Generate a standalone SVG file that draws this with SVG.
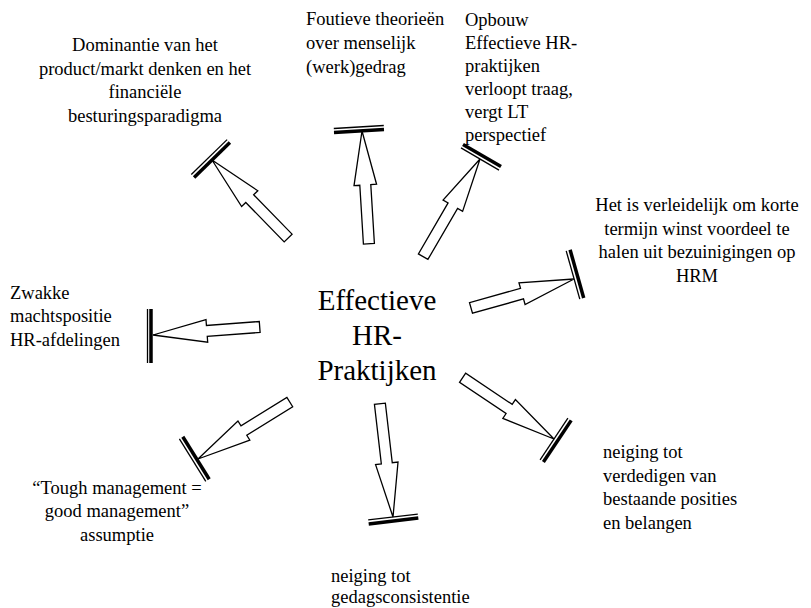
<svg xmlns="http://www.w3.org/2000/svg" width="811" height="608" viewBox="0 0 811 608">
<style>
text{font-family:'Liberation Serif','Times New Roman',serif;fill:#000}
.lbl{font-size:18.5px}
.mid{text-anchor:middle}
.big{font-size:29px;text-anchor:middle}
.arrow{fill:#fff;stroke:#000;stroke-width:1.3;stroke-linejoin:miter}
.thick{stroke:#000;stroke-width:3.5;fill:none}
.thin{stroke:#000;stroke-width:1.3;fill:none}
</style>
<rect width="811" height="608" fill="#fff"/>
<g id="connectors">
  <polygon class="arrow" transform="translate(212,160) rotate(-134.3)" points="0,0 -54,-11.3 -54,-5.5 -109,-5.5 -109,5.5 -54,5.5 -54,11.3"/>
  <line class="thick" x1="229.9" y1="142.55" x2="194.1" y2="177.45"/>
  <line class="thin" x1="227.1" y1="139.65" x2="191.3" y2="174.55"/>
  <polygon class="arrow" transform="translate(362,131) rotate(-93.5)" points="0,0 -54,-11.3 -54,-5.5 -113,-5.5 -113,5.5 -54,5.5 -54,11.3"/>
  <line class="thick" x1="384" y1="129.5" x2="334" y2="132.5"/>
  <line class="thin" x1="383.8" y1="125.5" x2="333.8" y2="128.5"/>
  <polygon class="arrow" transform="translate(480,159) rotate(-59.8)" points="0,0 -54,-11.3 -54,-5.5 -113,-5.5 -113,5.5 -54,5.5 -54,11.3"/>
  <line class="thin" x1="499" y1="170.1" x2="461" y2="147.9"/>
  <line class="thick" x1="501" y1="166.6" x2="463" y2="144.4"/>
  <polygon class="arrow" transform="translate(574,279) rotate(-15.7)" points="0,0 -54,-11.3 -54,-5.5 -107,-5.5 -107,5.5 -54,5.5 -54,11.3"/>
  <line class="thin" x1="579.8" y1="299.1" x2="566.2" y2="250.9"/>
  <line class="thick" x1="583.7" y1="298" x2="570.1" y2="249.8"/>
  <polygon class="arrow" transform="translate(153,335) rotate(175.7)" points="0,0 -54,-11.3 -54,-5.5 -107,-5.5 -107,5.5 -54,5.5 -54,11.3"/>
  <line class="thick" x1="151" y1="309" x2="151" y2="363"/>
  <line class="thin" x1="147.5" y1="309" x2="147.5" y2="363"/>
  <polygon class="arrow" transform="translate(198,459) rotate(148.2)" points="0,0 -54,-11.3 -54,-5.5 -108,-5.5 -108,5.5 -54,5.5 -54,11.3"/>
  <line class="thick" x1="182.8" y1="436.75" x2="209.2" y2="479.25"/>
  <line class="thin" x1="179.4" y1="438.85" x2="205.8" y2="481.35"/>
  <polygon class="arrow" transform="translate(393,517) rotate(83.4)" points="0,0 -54,-11.3 -54,-5.5 -114,-5.5 -114,5.5 -54,5.5 -54,11.3"/>
  <line class="thin" x1="368.2" y1="519.9" x2="417.8" y2="514.1"/>
  <line class="thick" x1="368.7" y1="523.9" x2="418.3" y2="518.1"/>
  <polygon class="arrow" transform="translate(554,439) rotate(33.8)" points="0,0 -54,-11.3 -54,-5.5 -110,-5.5 -110,5.5 -54,5.5 -54,11.3"/>
  <line class="thin" x1="540.1" y1="459.8" x2="567.9" y2="418.2"/>
  <line class="thick" x1="543.4" y1="462" x2="571.2" y2="420.4"/>
</g>
<g id="center">
  <text class="big" x="377" y="310">Effectieve</text>
  <text class="big" x="377" y="345">HR-</text>
  <text class="big" x="377" y="380">Praktijken</text>
</g>
<g id="node-dominantie">
  <text class="lbl mid" x="145" y="51">Dominantie van het</text>
  <text class="lbl mid" x="145" y="74.5">product/markt denken en het</text>
  <text class="lbl mid" x="145" y="98">financiële</text>
  <text class="lbl mid" x="145" y="121.5">besturingsparadigma</text>
</g>
<g id="node-foutieve">
  <text class="lbl" x="306" y="25">Foutieve theorieën</text>
  <text class="lbl" x="306" y="49">over menselijk</text>
  <text class="lbl" x="306" y="73">(werk)gedrag</text>
</g>
<g id="node-opbouw">
  <text class="lbl" x="465" y="26">Opbouw</text>
  <text class="lbl" x="465" y="49">Effectieve HR-</text>
  <text class="lbl" x="465" y="72">praktijken</text>
  <text class="lbl" x="465" y="95">verloopt traag,</text>
  <text class="lbl" x="465" y="118">vergt LT</text>
  <text class="lbl" x="465" y="141">perspectief</text>
</g>
<g id="node-verleidelijk">
  <text class="lbl mid" x="697" y="211">Het is verleidelijk om korte</text>
  <text class="lbl mid" x="697" y="234.5">termijn winst voordeel te</text>
  <text class="lbl mid" x="697" y="258">halen uit bezuinigingen op</text>
  <text class="lbl mid" x="697" y="281.5">HRM</text>
</g>
<g id="node-zwakke">
  <text class="lbl" x="10" y="299">Zwakke</text>
  <text class="lbl" x="10" y="322">machtspositie</text>
  <text class="lbl" x="10" y="346">HR-afdelingen</text>
</g>
<g id="node-tough">
  <text class="lbl mid" x="117" y="494">“Tough management =</text>
  <text class="lbl mid" x="117" y="517">good management”</text>
  <text class="lbl mid" x="117" y="541">assumptie</text>
</g>
<g id="node-verdedigen">
  <text class="lbl" x="603" y="458">neiging tot</text>
  <text class="lbl" x="603" y="482">verdedigen van</text>
  <text class="lbl" x="603" y="505">bestaande posities</text>
  <text class="lbl" x="603" y="529">en belangen</text>
</g>
<g id="node-consistentie">
  <text class="lbl" x="331" y="582">neiging tot</text>
  <text class="lbl" x="331" y="603">gedagsconsistentie</text>
</g>
</svg>
